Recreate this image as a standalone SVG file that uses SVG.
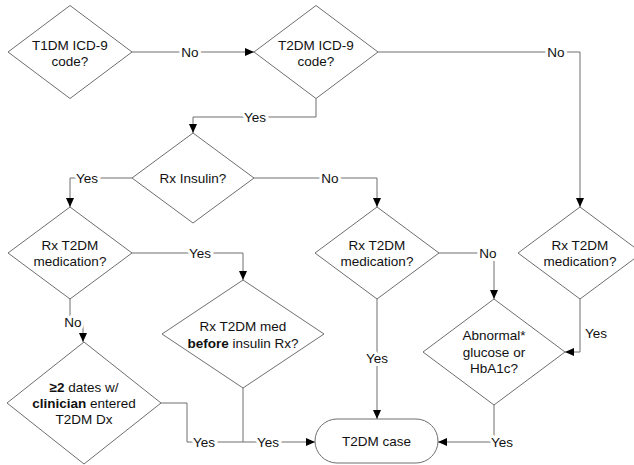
<svg xmlns="http://www.w3.org/2000/svg" width="634" height="465" viewBox="0 0 634 465">
<style>
.shape{fill:#fff;stroke:#6e6e6e;stroke-width:1}
.conn{fill:none;stroke:#6e6e6e;stroke-width:1;marker-end:url(#arr)}
.plain{fill:none;stroke:#6e6e6e;stroke-width:1}
text{font-family:"Liberation Sans",Arial,sans-serif;font-size:13.5px;fill:#111;text-anchor:middle}
.lbl{stroke:#fff;stroke-width:6;paint-order:stroke;stroke-linejoin:round}
.b{font-weight:bold}
</style>
<defs>
<marker id="arr" markerUnits="userSpaceOnUse" markerWidth="10" markerHeight="10" refX="9" refY="4" orient="auto">
<path d="M0,0 L9,4 L0,8 z" fill="#000"/>
</marker>
</defs>
<g id="connectors">
<path class="conn" d="M132,52 H254"/>
<path class="conn" d="M378,52 H580 V207"/>
<path class="conn" d="M316,98.5 V117 H193 V133"/>
<path class="conn" d="M132,178 H70 V207"/>
<path class="conn" d="M254,178 H377 V207"/>
<path class="conn" d="M132,253 H243 V280"/>
<path class="conn" d="M70,299 V322 H83 V342"/>
<path class="conn" d="M439,253 H494 V299"/>
<path class="conn" d="M377,299 V419"/>
<path class="conn" d="M580,299 V352 H565"/>
<path class="conn" d="M494,405 V442 H438"/>
<path class="plain" d="M161,403 H187 V442 H243"/>
<path class="conn" d="M243,388 V442 H315"/>
<text class="lbl" x="190" y="57">No</text>
<text class="lbl" x="556" y="57">No</text>
<text class="lbl" x="255" y="122">Yes</text>
<text class="lbl" x="87" y="183">Yes</text>
<text class="lbl" x="330" y="183">No</text>
<text class="lbl" x="200" y="258">Yes</text>
<text class="lbl" x="73" y="327">No</text>
<text class="lbl" x="488" y="258">No</text>
<text class="lbl" x="377" y="363">Yes</text>
<text class="lbl" x="596" y="338">Yes</text>
<text class="lbl" x="502" y="447">Yes</text>
<text class="lbl" x="204" y="447">Yes</text>
<text class="lbl" x="268" y="447">Yes</text>
</g>
<g id="t1dm">
<polygon class="shape" points="70,5.5 132,52 70,98.5 8,52"/>
<text x="70" y="49.5">T1DM ICD-9</text>
<text x="70" y="66">code?</text>
</g>
<g id="t2dm">
<polygon class="shape" points="316,5.5 378,52 316,98.5 254,52"/>
<text x="316" y="49.5">T2DM ICD-9</text>
<text x="316" y="66">code?</text>
</g>
<g id="insulin">
<polygon class="shape" points="193,133 254,178 193,223 132,178"/>
<text x="193" y="183">Rx Insulin?</text>
</g>
<g id="med-left">
<polygon class="shape" points="70,207 132,253 70,299 8,253"/>
<text x="70" y="250">Rx T2DM</text>
<text x="70" y="265.5">medication?</text>
</g>
<g id="med-mid">
<polygon class="shape" points="377,207 439,253 377,299 315,253"/>
<text x="377" y="250">Rx T2DM</text>
<text x="377" y="265.5">medication?</text>
</g>
<g id="med-right">
<polygon class="shape" points="580,207 642,253 580,299 518,253"/>
<text x="580" y="250">Rx T2DM</text>
<text x="580" y="265.5">medication?</text>
</g>
<g id="before">
<polygon class="shape" points="243,280 324,334 243,388 162,334"/>
<text x="243" y="331">Rx T2DM med</text>
<text x="243" y="347.5"><tspan class="b">before</tspan> insulin Rx?</text>
</g>
<g id="abnormal">
<polygon class="shape" points="494,299 565,352 494,405 423,352"/>
<text x="494" y="340">Abnormal*</text>
<text x="494" y="356.5">glucose or</text>
<text x="494" y="373">HbA1c?</text>
</g>
<g id="dates">
<polygon class="shape" points="84,342 161,403 84,464 7,403"/>
<text x="84" y="392"><tspan class="b">≥2</tspan> dates w/</text>
<text x="84" y="408"><tspan class="b">clinician</tspan> entered</text>
<text x="84" y="423.5">T2DM Dx</text>
</g>
<g id="case">
<rect class="shape" x="315" y="419" width="123" height="44" rx="22"/>
<text x="376.5" y="446">T2DM case</text>
</g>
</svg>
